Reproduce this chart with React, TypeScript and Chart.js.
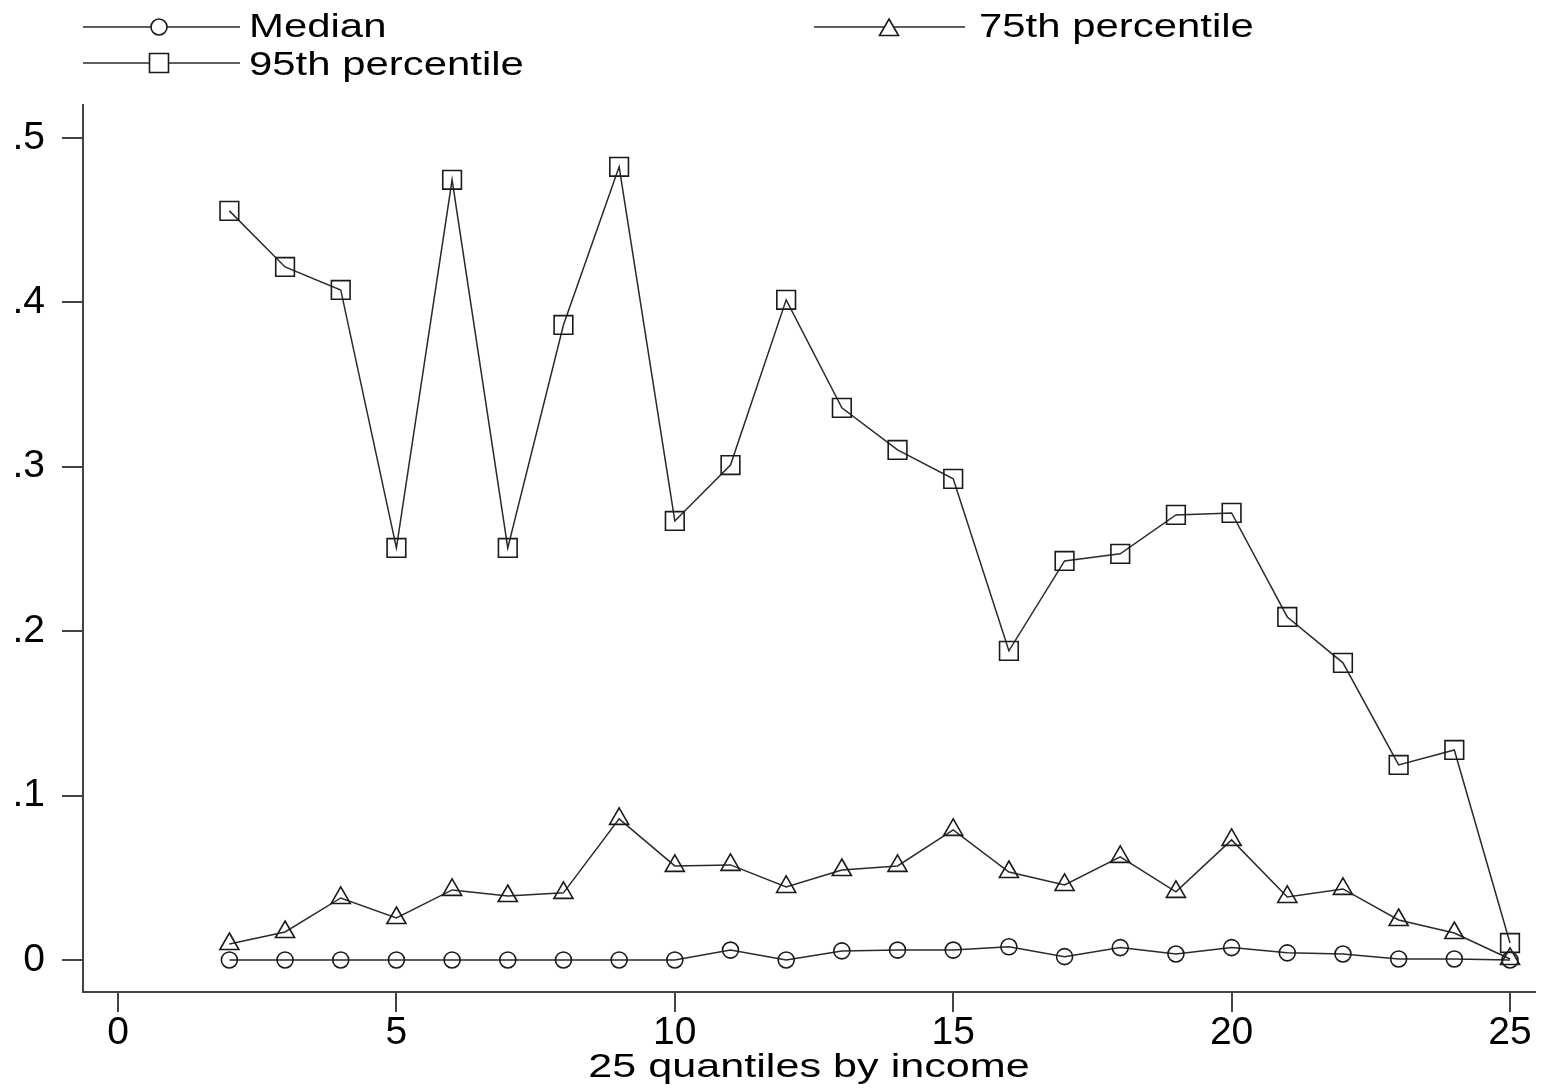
import React, { useEffect, useRef } from 'react';
import { Chart, registerables } from 'chart.js';

Chart.register(...registerables);

const quantiles = [2, 3, 4, 5, 6, 7, 8, 9, 10, 11, 12, 13, 14, 15, 16, 17, 18, 19, 20, 21, 22, 23, 24, 25];
const medianValues = [0, 0, 0, 0, 0, 0, 0, 0, 0, 0.006, 0, 0.0055, 0.006, 0.006, 0.008, 0.002, 0.0075, 0.0036, 0.0075, 0.0043, 0.0036, 0.0006, 0.0006, 0];
const p75Values = [0.0097, 0.017, 0.0377, 0.0255, 0.0426, 0.0389, 0.0408, 0.0858, 0.0572, 0.0578, 0.0444, 0.0547, 0.0572, 0.0791, 0.0535, 0.0456, 0.0627, 0.0414, 0.073, 0.0383, 0.0432, 0.0243, 0.0164, 0.0006];
const p95Values = [0.4556, 0.4215, 0.4075, 0.2506, 0.4745, 0.2506, 0.3862, 0.4824, 0.267, 0.301, 0.4015, 0.3358, 0.3102, 0.2926, 0.188, 0.2427, 0.247, 0.2707, 0.2719, 0.2086, 0.1807, 0.1186, 0.1277, 0.0103];
const seriesNames = ['Median', '75th percentile', '95th percentile'];
const xTickValues = [0, 5, 10, 15, 20, 25];
const yTickValues = [0, 0.1, 0.2, 0.3, 0.4, 0.5];
const yTickLabels = ['0', '.1', '.2', '.3', '.4', '.5'];
const xTitle = '25 quantiles by income';

const FONT = '"Liberation Sans", Arial, sans-serif';
const STRETCH = 1.27;

function drawMarker(ctx: CanvasRenderingContext2D, kind: string, x: number, y: number) {
  ctx.save();
  ctx.strokeStyle = '#1a1a1a';
  ctx.lineWidth = 1.6;
  ctx.beginPath();
  if (kind === 'circle') {
    ctx.arc(x, y, 8, 0, Math.PI * 2);
  } else if (kind === 'triangle') {
    const r = 11;
    for (let i = 0; i < 3; i++) {
      const a = (i * 2 * Math.PI) / 3;
      const px = x + Math.sin(a) * r;
      const py = y - Math.cos(a) * r;
      if (i === 0) ctx.moveTo(px, py);
      else ctx.lineTo(px, py);
    }
    ctx.closePath();
  } else {
    ctx.rect(x - 9.5, y - 9.5, 19, 19);
  }
  ctx.fillStyle = '#fff';
  ctx.fill();
  ctx.stroke();
  ctx.restore();
}

function stretchedText(ctx: CanvasRenderingContext2D, text: string, x: number, y: number, size: number, align: 'left' | 'center') {
  ctx.save();
  ctx.font = `${size}px ${FONT}`;
  ctx.fillStyle = '#000';
  ctx.textBaseline = 'alphabetic';
  const w = ctx.measureText(text).width * STRETCH;
  const startX = align === 'center' ? x - w / 2 : x;
  ctx.translate(startX, y);
  ctx.scale(STRETCH, 1);
  ctx.textAlign = 'left';
  ctx.fillText(text, 0, 0);
  ctx.restore();
}

const overlayPlugin = {
  id: 'stataOverlay',
  afterDraw(chart: any) {
    const ctx: CanvasRenderingContext2D = chart.ctx;
    const items = [
      { name: seriesNames[0], marker: 'circle', x0: 83, x1: 240, mx: 159, tx: 249, ly: 27, by: 37 },
      { name: seriesNames[1], marker: 'triangle', x0: 814, x1: 965, mx: 889, tx: 979, ly: 27, by: 37 },
      { name: seriesNames[2], marker: 'rect', x0: 83, x1: 240, mx: 159, tx: 249, ly: 63, by: 75 },
    ];
    items.forEach((it) => {
      ctx.save();
      ctx.strokeStyle = '#2a2a2a';
      ctx.lineWidth = 1.5;
      ctx.beginPath();
      ctx.moveTo(it.x0, it.ly);
      ctx.lineTo(it.x1, it.ly);
      ctx.stroke();
      ctx.restore();
      drawMarker(ctx, it.marker, it.mx, it.marker === 'triangle' ? it.ly + 3 : it.ly);
      stretchedText(ctx, it.name, it.tx, it.by, 33, 'left');
    });
    const area = chart.chartArea;
    stretchedText(ctx, xTitle, (area.left + area.right) / 2, 1077, 34, 'center');
  },
};

export default function App() {
  const canvasRef = useRef<HTMLCanvasElement | null>(null);

  useEffect(() => {
    const canvas = canvasRef.current;
    if (!canvas) return;
    const mk = (vals: number[]) => quantiles.map((q, i) => ({ x: q, y: vals[i] }));
    const common = {
      borderColor: '#2a2a2a',
      borderWidth: 1.5,
      pointBorderColor: '#1a1a1a',
      pointBorderWidth: 1.6,
      pointBackgroundColor: 'rgba(0,0,0,0)',
      tension: 0,
      fill: false,
    };
    const chart = new Chart(canvas, {
      type: 'line',
      data: {
        datasets: [
          { ...common, label: seriesNames[0], data: mk(medianValues), pointStyle: 'circle', pointRadius: 8 },
          { ...common, label: seriesNames[1], data: mk(p75Values), pointStyle: 'triangle', pointRadius: 11 },
          { ...common, label: seriesNames[2], data: mk(p95Values), pointStyle: 'rect', pointRadius: 13.2 },
        ],
      } as any,
      options: {
        animation: false,
        responsive: false,
        devicePixelRatio: 1,
        layout: { padding: { top: 105, right: 16, left: 0, bottom: 0 } },
        plugins: { legend: { display: false }, tooltip: { enabled: false } },
        scales: {
          x: {
            type: 'linear',
            min: -0.629,
            max: 25.449,
            afterBuildTicks: (s: any) => {
              s.ticks = xTickValues.map((v) => ({ value: v }));
            },
            afterFit: (s: any) => {
              s.height = 97;
            },
            grid: { display: true, drawOnChartArea: false, drawTicks: true, tickLength: 20, color: '#444', lineWidth: 2 },
            border: { display: true, color: '#444', width: 2 },
            ticks: {
              font: { family: FONT, size: 39 },
              color: '#000',
              padding: -2,
              maxRotation: 0,
              autoSkip: false,
              callback: (v: any) => String(v),
            },
          },
          y: {
            type: 'linear',
            min: -0.0195,
            max: 0.52,
            afterBuildTicks: (s: any) => {
              s.ticks = yTickValues.map((v) => ({ value: v }));
            },
            afterFit: (s: any) => {
              s.width = 83;
            },
            grid: { display: true, drawOnChartArea: false, drawTicks: true, tickLength: 21, color: '#444', lineWidth: 2 },
            border: { display: true, color: '#444', width: 2 },
            ticks: {
              font: { family: FONT, size: 39 },
              color: '#000',
              padding: 17,
              autoSkip: false,
              callback: (v: any) => {
                const idx = yTickValues.findIndex((t) => Math.abs(t - Number(v)) < 1e-9);
                return idx >= 0 ? yTickLabels[idx] : '';
              },
            },
          },
        },
      } as any,
      plugins: [overlayPlugin],
    });
    return () => chart.destroy();
  }, []);

  return (
    <div style={{ position: 'absolute', left: 0, top: 0, width: 1551, height: 1089, background: '#fff' }}>
      <canvas ref={canvasRef} width={1551} height={1089} style={{ width: 1551, height: 1089, display: 'block' }} />
    </div>
  );
}
